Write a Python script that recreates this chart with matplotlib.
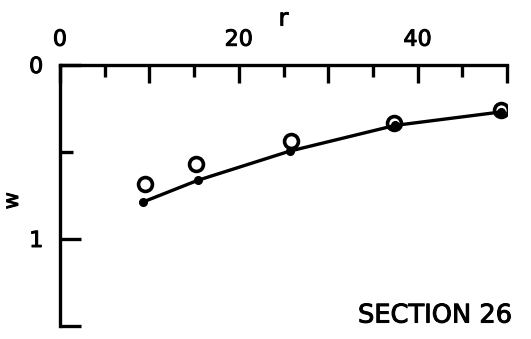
import matplotlib
matplotlib.use("Agg")
from matplotlib import pyplot as plt
from matplotlib import patheffects
from matplotlib.ticker import FixedLocator

plt.rcParams['font.family'] = ['DejaVu Sans']

# computed deflection (solid dots joined by the curve)
r_calc = [9.3, 15.4, 25.7, 37.5, 49.3]
w_calc = [0.787, 0.663, 0.495, 0.347, 0.27]

# measured deflection (open circles)
r_meas = [9.5, 15.2, 25.8, 37.4, 49.3]
w_meas = [0.686, 0.567, 0.436, 0.335, 0.26]

x_major = [0, 10, 20, 30, 40, 50]
x_major_labels = ["0", "", "20", "", "40", ""]
x_minor = [5, 15, 25, 35, 45]
y_major = [0, 1, 1.5]
y_major_labels = ["0", "1", ""]
y_minor = [0.5]

# slightly heavier lettering
ink = [patheffects.withStroke(linewidth=0.7, foreground="black")]

fig = plt.figure(figsize=(5.31, 3.39), dpi=100)
ax = fig.add_axes([60/531, 1 - 326/339, 447/531, 261/339])

ax.plot(r_calc, w_calc, color="black", lw=2.4, marker="o", ms=5.5,
        solid_capstyle="round", zorder=3)
ax.plot(r_meas, w_meas, ls="none", marker="o", ms=10, mfc="none",
        mec="black", mew=2.6, zorder=4)

ax.set_xlim(0, 50)
ax.set_ylim(1.5, 0)

for side in ("right", "bottom"):
    ax.spines[side].set_visible(False)
for side in ("left", "top"):
    ax.spines[side].set_linewidth(2.4)

ax.xaxis.set_ticks_position("top")
ax.xaxis.set_label_position("top")
ax.xaxis.set_major_locator(FixedLocator(x_major))
ax.set_xticklabels(x_major_labels)
ax.xaxis.set_minor_locator(FixedLocator(x_minor))
ax.yaxis.set_major_locator(FixedLocator(y_major))
ax.set_yticklabels(y_major_labels)
ax.yaxis.set_minor_locator(FixedLocator(y_minor))

ax.tick_params(axis="x", which="major", direction="in", length=13, width=2.4,
               labelsize=16, pad=11)
ax.tick_params(axis="x", which="minor", direction="in", length=8.5, width=2.4)
ax.tick_params(axis="y", which="major", direction="in", length=15, width=2.4,
               labelsize=16, pad=12)
ax.tick_params(axis="y", which="minor", direction="in", length=9, width=2.4)
for lbl in ax.get_xticklabels() + ax.get_yticklabels():
    lbl.set_path_effects(ink)

ax.set_xlabel("r", fontsize=17, labelpad=3, path_effects=ink)
ax.set_ylabel("w", fontsize=15, path_effects=ink)
ax.yaxis.set_label_coords(-38/447, 0.48)

ax.text(1.012, 0.04, "SECTION 26", transform=ax.transAxes, ha="right",
        va="center", fontsize=18.5, path_effects=ink)

fig.savefig("out.png", dpi=100)
